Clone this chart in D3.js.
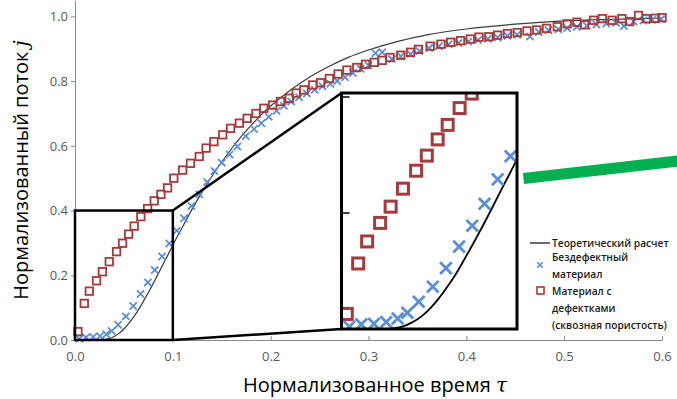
<!DOCTYPE html>
<html>
<head>
<meta charset="utf-8">
<script src="https://cdn.jsdelivr.net/npm/d3@7"></script>
<style>
  body { margin: 0; background: #fff; }
  svg { display: block; font-family: "Open Sans", sans-serif; }
</style>
</head>
<body>
<div id="chart"></div>
<script>
// values
const xTicks = [0, 0.1, 0.2, 0.3, 0.4, 0.5, 0.6];
const yTicks = [0, 0.2, 0.4, 0.6, 0.8, 1.0];
const insetTicks = [0.2, 0.4];

// theoretical curve
const tauTheory = [0, 0.01, 0.02, 0.025, 0.03, 0.035, 0.04, 0.045, 0.05, 0.055,
  0.06, 0.065, 0.07, 0.075, 0.08, 0.085, 0.09, 0.095, 0.10,
  0.11, 0.12, 0.13, 0.14, 0.15, 0.16, 0.17, 0.18, 0.19, 0.20,
  0.22, 0.24, 0.26, 0.28, 0.30, 0.33, 0.36, 0.40, 0.45, 0.50, 0.55, 0.60];
const jTheory = [0, 0, 0, 0.0003, 0.0015, 0.0046, 0.011, 0.0205, 0.034, 0.051,
  0.0715, 0.094, 0.120, 0.147, 0.175, 0.204, 0.234, 0.263, 0.293,
  0.350, 0.406, 0.457, 0.506, 0.550, 0.591, 0.629, 0.663, 0.695, 0.723,
  0.772, 0.813, 0.846, 0.874, 0.896, 0.923, 0.943, 0.961, 0.976, 0.986, 0.991, 0.995];

// defect-free material (crosses)
const tauPerfect = [0.0045, 0.0113, 0.0185, 0.0255, 0.032, 0.0375, 0.044, 0.052, 0.0595, 0.067,
  0.0745, 0.0815, 0.089, 0.0963, 0.104, 0.1115, 0.119, 0.127, 0.135, 0.1425,
  0.150, 0.158, 0.166, 0.1745, 0.183, 0.1905, 0.198, 0.206, 0.2135, 0.221,
  0.229, 0.237, 0.245, 0.253, 0.261, 0.268, 0.276, 0.284, 0.292, 0.300,
  0.307, 0.314, 0.324, 0.333, 0.343, 0.352, 0.362, 0.372, 0.382, 0.392,
  0.402, 0.412, 0.422, 0.432, 0.442, 0.452, 0.465, 0.474, 0.484, 0.494,
  0.503, 0.513, 0.523, 0.533, 0.543, 0.553, 0.561, 0.571, 0.581, 0.590, 0.599];
const jPerfect = [0.004, 0.008, 0.009, 0.012, 0.018, 0.028, 0.047, 0.073, 0.105, 0.142,
  0.178, 0.216, 0.258, 0.298, 0.338, 0.376, 0.414, 0.450, 0.488, 0.522,
  0.548, 0.573, 0.598, 0.630, 0.652, 0.670, 0.690, 0.708, 0.724, 0.737,
  0.750, 0.762, 0.773, 0.784, 0.792, 0.800, 0.812, 0.825, 0.838, 0.848,
  0.886, 0.889, 0.868, 0.877, 0.884, 0.893, 0.902, 0.908, 0.914, 0.918,
  0.922, 0.927, 0.931, 0.935, 0.940, 0.943, 0.938, 0.952, 0.957, 0.960,
  0.964, 0.968, 0.971, 0.975, 0.978, 0.980, 0.970, 0.984, 0.987, 0.989, 0.991];

// material with defects (squares)
const tauDefect = [0.003, 0.0095, 0.0146, 0.022, 0.028, 0.035, 0.0425, 0.0486, 0.0548, 0.0605,
  0.0673, 0.0742, 0.081, 0.0878, 0.0946, 0.101, 0.110, 0.118, 0.127, 0.134,
  0.142, 0.151, 0.159, 0.168, 0.176, 0.185, 0.193, 0.202, 0.210, 0.219,
  0.226, 0.234, 0.243, 0.251, 0.260, 0.269, 0.278, 0.288, 0.297, 0.306,
  0.314, 0.322, 0.333, 0.343, 0.351, 0.363, 0.374, 0.384, 0.394, 0.404,
  0.413, 0.423, 0.432, 0.442, 0.452, 0.462, 0.472, 0.482, 0.493, 0.503,
  0.513, 0.521, 0.530, 0.539, 0.549, 0.559, 0.567, 0.576, 0.584, 0.593, 0.600];
const jDefect = [0.026, 0.113, 0.151, 0.183, 0.211, 0.242, 0.273, 0.299, 0.327, 0.352,
  0.381, 0.406, 0.430, 0.450, 0.470, 0.500, 0.525, 0.546, 0.567, 0.593,
  0.613, 0.634, 0.654, 0.670, 0.685, 0.700, 0.716, 0.726, 0.737, 0.747,
  0.763, 0.773, 0.788, 0.795, 0.808, 0.822, 0.834, 0.842, 0.852, 0.858,
  0.864, 0.873, 0.880, 0.889, 0.898, 0.908, 0.914, 0.920, 0.925, 0.930,
  0.936, 0.937, 0.942, 0.947, 0.950, 0.955, 0.958, 0.963, 0.968, 0.977,
  0.982, 0.974, 0.988, 0.993, 0.988, 0.993, 0.984, 1.003, 0.993, 0.994, 0.996];

const legendTheory = ["Теоретический расчет"];
const legendPerfect = ["Бездефектный", "материал"];
const legendDefect = ["Материал с", "дефектками", "(сквозная пористость)"];

const width = 677, height = 399;
const lineColor = "#3a3a3a", blue = "#5a8fd8", red = "#a33a3c", axisColor = "#8a8a8a";

const theory = tauTheory.map((t, i) => ({ t, j: jTheory[i] }));
const perfect = tauPerfect.map((t, i) => ({ t, j: jPerfect[i] }));
const defect = tauDefect.map((t, i) => ({ t, j: jDefect[i] }));

const svg = d3.select("#chart").append("svg")
    .attr("width", width)
    .attr("height", height);

const x = d3.scaleLinear().domain([0, 0.6]).range([75, 662]);
const y = d3.scaleLinear().domain([0, 1.05]).range([340, 0.2]);

// inset = magnified corner [0,0.1] x [0,0.4]
const box = { left: 341.5, right: 517, top: 93, bottom: 329 };
const xi = d3.scaleLinear().domain([0, 0.1]).range([box.left, box.right]);
const yi = d3.scaleLinear().domain([0, 0.407]).range([box.bottom, box.top]);

function drawSeries(g, sx, sy, o) {
    const line = d3.line()
        .x(d => sx(d.t))
        .y(d => sy(d.j))
        .curve(d3.curveMonotoneX);

    g.append("path")
        .datum(theory)
        .attr("d", line)
        .attr("fill", "none")
        .attr("stroke", o.lineColor)
        .attr("stroke-width", o.lineWidth);

    const c = o.cross;
    g.selectAll(".cross")
        .data(perfect)
        .join("path")
        .attr("class", "cross")
        .attr("transform", d => `translate(${sx(d.t)},${sy(d.j)})`)
        .attr("d", `M${-c},${-c}L${c},${c}M${-c},${c}L${c},${-c}`)
        .attr("stroke", blue)
        .attr("stroke-width", o.crossWidth);

    const s = o.square;
    g.selectAll(".sq")
        .data(defect)
        .join("rect")
        .attr("class", "sq")
        .attr("x", d => sx(d.t) - s / 2)
        .attr("y", d => sy(d.j) - s / 2)
        .attr("width", s)
        .attr("height", s)
        .attr("fill", "none")
        .attr("stroke", red)
        .attr("stroke-width", o.squareWidth);
}

// axes
const yAxis = svg.append("g")
    .attr("transform", `translate(${x(0)},0)`)
    .call(d3.axisLeft(y).tickValues(yTicks).tickSizeInner(4).tickSizeOuter(0)
        .tickPadding(3).tickFormat(d3.format(".1f")));

const xAxis = svg.append("g")
    .attr("transform", `translate(0,${y(0)})`)
    .call(d3.axisBottom(x).tickValues(xTicks).tickSizeInner(-4).tickSizeOuter(0)
        .tickPadding(12).tickFormat(d3.format(".1f")));

[yAxis, xAxis].forEach(a => {
    a.attr("font-family", null).attr("font-size", 13);
    a.select(".domain").attr("stroke", axisColor);
    a.selectAll(".tick line").attr("stroke", axisColor);
    a.selectAll(".tick text").attr("fill", "#595959");
});

// main plot
drawSeries(svg.append("g"), x, y,
    { lineColor: lineColor, lineWidth: 1.2, cross: 3.6, crossWidth: 1.8, square: 7.5, squareWidth: 1.8 });

// zoom frame and connectors
svg.append("rect")
    .attr("x", x(0)).attr("y", y(0.4))
    .attr("width", x(0.1) - x(0)).attr("height", y(0) - y(0.4))
    .attr("fill", "none").attr("stroke", "#000").attr("stroke-width", 2.5);

svg.append("g")
    .selectAll("line")
    .data([[0.4, box.top], [0, box.bottom]])
    .join("line")
    .attr("x1", x(0.1)).attr("y1", d => y(d[0]))
    .attr("x2", box.left).attr("y2", d => d[1])
    .attr("stroke", "#000").attr("stroke-width", 2.5);

// inset
svg.append("clipPath").attr("id", "insetClip")
    .append("rect")
    .attr("x", box.left).attr("y", box.top)
    .attr("width", box.right - box.left).attr("height", box.bottom - box.top);

svg.append("rect")
    .attr("x", box.left).attr("y", box.top)
    .attr("width", box.right - box.left).attr("height", box.bottom - box.top)
    .attr("fill", "#fff");

const inset = svg.append("g").attr("clip-path", "url(#insetClip)");
drawSeries(inset, xi, yi,
    { lineColor: "#000", lineWidth: 1.8, cross: 5.8, crossWidth: 2.8, square: 11, squareWidth: 3 });

inset.selectAll(".itick")
    .data(insetTicks)
    .join("line")
    .attr("class", "itick")
    .attr("x1", box.left).attr("x2", box.left + 8)
    .attr("y1", d => yi(d)).attr("y2", d => yi(d))
    .attr("stroke", "#000").attr("stroke-width", 1.5);

svg.append("rect")
    .attr("x", box.left).attr("y", box.top)
    .attr("width", box.right - box.left).attr("height", box.bottom - box.top)
    .attr("fill", "none").attr("stroke", "#000").attr("stroke-width", 3);

// axis titles
svg.append("text")
    .attr("transform", "translate(28,170) rotate(-90)")
    .attr("text-anchor", "middle")
    .attr("font-size", 20)
    .attr("fill", "#000")
    .call(t => {
        t.append("tspan").text("Нормализованный поток ");
        t.append("tspan").attr("font-family", "DejaVu Serif, serif").attr("font-style", "italic").text("j");
    });

svg.append("text")
    .attr("x", 375).attr("y", 392)
    .attr("text-anchor", "middle")
    .attr("font-size", 20)
    .attr("fill", "#000")
    .call(t => {
        t.append("tspan").text("Нормализованное время ");
        t.append("tspan").attr("font-family", "DejaVu Serif, serif").attr("font-style", "italic").text("τ");
    });

// legend
const legend = svg.append("g")
    .attr("font-size", 10.2)
    .attr("font-weight", 600)
    .attr("fill", "#1a1a1a");

legend.append("line")
    .attr("x1", 530).attr("x2", 550).attr("y1", 243).attr("y2", 243)
    .attr("stroke", lineColor).attr("stroke-width", 1.5);
legend.append("path")
    .attr("transform", "translate(540,265)")
    .attr("d", "M-2.8,-2.8L2.8,2.8M-2.8,2.8L2.8,-2.8")
    .attr("stroke", blue).attr("stroke-width", 1.6);
legend.append("rect")
    .attr("x", 537).attr("y", 287).attr("width", 7).attr("height", 7)
    .attr("fill", "none").attr("stroke", red).attr("stroke-width", 1.6);

const legendRows = [
    { lines: legendTheory, y: 246.5 },
    { lines: legendPerfect, y: 260.5 },
    { lines: legendDefect, y: 295 }
];
legendRows.forEach(r => {
    r.lines.forEach((s, i) => {
        legend.append("text")
            .attr("x", 552)
            .attr("y", r.y + i * 17)
            .text(s);
    });
});

// green pointer
svg.append("line")
    .attr("x1", 523.5).attr("y1", 178.5)
    .attr("x2", 678).attr("y2", 161)
    .attr("stroke", "#00b050").attr("stroke-width", 11);
</script>
</body>
</html>
